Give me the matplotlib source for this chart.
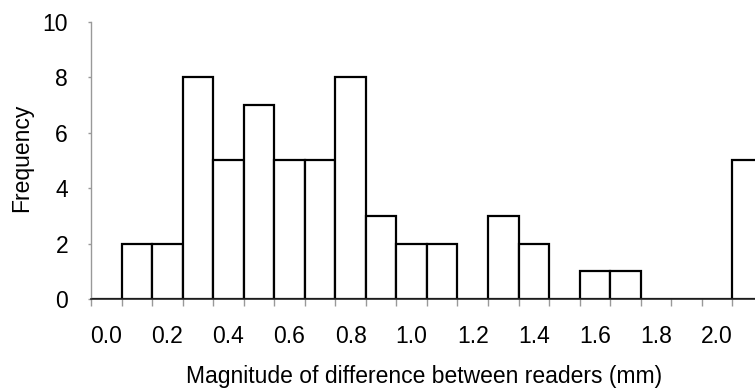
import matplotlib
matplotlib.use('Agg')
import matplotlib.pyplot as plt
import numpy as np

plt.rcParams['font.family'] = ['Liberation Sans', 'DejaVu Sans']

# Histogram bins (mm), 0.1 mm wide; last bin holds everything above 2.0
bin_labels = ['0.0', '0.1', '0.2', '0.3', '0.4', '0.5', '0.6', '0.7', '0.8', '0.9', '1.0',
              '1.1', '1.2', '1.3', '1.4', '1.5', '1.6', '1.7', '1.8', '1.9', '2.0', '>2.0']
counts = [0, 2, 2, 8, 5, 7, 5, 5, 8, 3, 2, 2, 0, 3, 2, 0, 1, 1, 0, 0, 0, 5]

fs = 16.5

fig = plt.figure(figsize=(7.55, 3.88), dpi=100)
ax = fig.add_axes([0.1205, 0.2294, 0.890, 0.714])

x = np.arange(len(counts))
ax.bar(x, counts, width=1.0, color='white', edgecolor='black', linewidth=1.6, zorder=2)

ax.set_xlim(-0.5, len(counts) - 0.5)
ax.set_ylim(0, 10)
ax.set_yticks(range(0, 11, 2))

# ticks sit on the bin edges, labels under every second bin
ax.set_xticks(np.arange(len(counts) + 1) - 0.5)
ax.set_xticklabels([])
ax.set_xticks(x[::2], minor=True)
ax.set_xticklabels(bin_labels[::2], minor=True)
ax.tick_params(axis='x', which='major', length=5, width=1, color='#999999', direction='out')
ax.tick_params(axis='x', which='minor', length=0, pad=19, labelsize=fs)
ax.tick_params(axis='y', length=2.5, width=1, color='#999999', pad=14, labelsize=fs)

for side in ['top', 'right']:
    ax.spines[side].set_visible(False)
ax.spines['left'].set_color('#999999')
ax.spines['left'].set_linewidth(1)
ax.spines['bottom'].set_color('#222222')
ax.spines['bottom'].set_linewidth(1.2)

fig.text(22 / 755, 1 - 158 / 388, 'Frequency', fontsize=fs, rotation=90, ha='center', va='center')
fig.text(424 / 755, 1 - 376 / 388, 'Magnitude of difference between readers (mm)', fontsize=fs,
         ha='center', va='center')

plt.savefig('out.png', dpi=100)
